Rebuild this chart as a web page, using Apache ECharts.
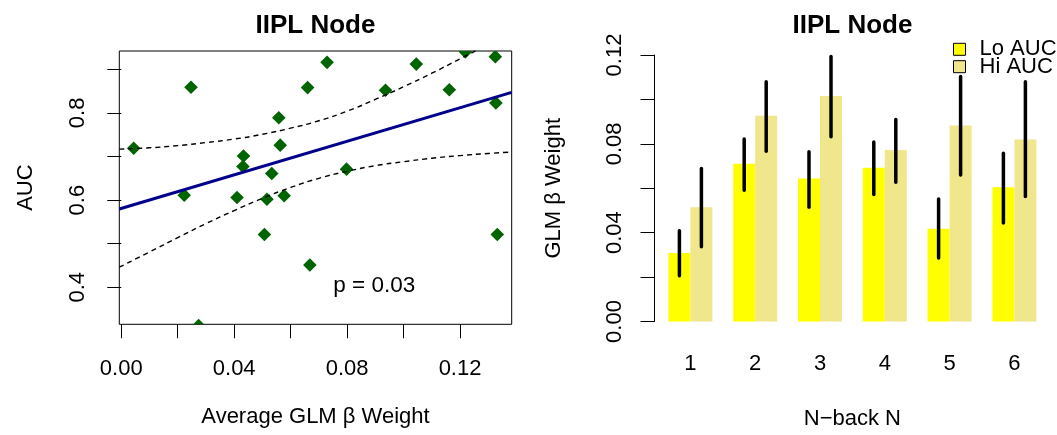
<!DOCTYPE html>
<html><head><meta charset="utf-8">
<script src="https://cdn.jsdelivr.net/npm/echarts@6/dist/echarts.min.js"></script>
<style>html,body{margin:0;padding:0;background:#fff}#c{width:1057px;height:435px}</style>
</head><body><div id="c"></div>
<script>
// ---- Left panel: scatter of AUC vs average GLM beta weight ----
const scatterX = [0.0044, 0.0247, 0.0223, 0.0274, 0.0410, 0.0433, 0.0431, 0.0507, 0.0516, 0.0533, 0.0558, 0.0563,
                  0.0577, 0.0660, 0.0668, 0.0729, 0.0798, 0.0936, 0.1045, 0.1162, 0.1219, 0.1325, 0.1327, 0.1332];
const scatterY = [0.719, 0.859, 0.611, 0.312, 0.606, 0.701, 0.677, 0.521, 0.602, 0.661, 0.789, 0.726,
                  0.610, 0.858, 0.451, 0.916, 0.671, 0.852, 0.912, 0.853, 0.940, 0.929, 0.823, 0.521];
const fitX = [-0.0007, 0.1383];
const fitY = [0.5797, 0.8470];
const bandX = [-0.0007, 0.01, 0.02, 0.03, 0.04, 0.05, 0.06, 0.07, 0.08, 0.09, 0.10, 0.11, 0.12, 0.13, 0.1383];
const bandUpper = [0.717, 0.720, 0.725, 0.732, 0.740, 0.751, 0.765, 0.782, 0.804, 0.831, 0.860, 0.891, 0.924, 0.957, 0.985];
const bandLower = [0.446, 0.481, 0.514, 0.546, 0.576, 0.604, 0.629, 0.650, 0.666, 0.679, 0.688, 0.696, 0.702, 0.707, 0.710];
const xTicksLeft = [0, 0.02, 0.04, 0.06, 0.08, 0.10, 0.12];
const xLabelsLeft = [0, 0.04, 0.08, 0.12];
const yTicksLeft = [0.4, 0.5, 0.6, 0.7, 0.8, 0.9];
const yLabelsLeft = [0.4, 0.6, 0.8];
const pText = 'p = 0.03';

// ---- Right panel: bars with error bars ----
const nback = ['1', '2', '3', '4', '5', '6'];
const loAUC = [0.0308, 0.0710, 0.0644, 0.0692, 0.0418, 0.0604];
const hiAUC = [0.0515, 0.0926, 0.1015, 0.0772, 0.0882, 0.0820];
const loErrLow  = [0.0206, 0.0591, 0.0515, 0.0572, 0.0286, 0.0443];
const loErrHigh = [0.0409, 0.0822, 0.0764, 0.0808, 0.0552, 0.0758];
const hiErrLow  = [0.0337, 0.0767, 0.0832, 0.0627, 0.0660, 0.0563];
const hiErrHigh = [0.0689, 0.1079, 0.1193, 0.0910, 0.1103, 0.1079];
const yTicksRight = [0, 0.02, 0.04, 0.06, 0.08, 0.10, 0.12];
const yLabelsRight = [0, 0.04, 0.08, 0.12];

const FONT = '"Liberation Sans", Arial, Helvetica, sans-serif';
const BARW = 22;

const chart = echarts.init(document.getElementById('c'), null, {renderer: 'canvas'});

function errItem(offset) {
  return function (params, api) {
    const c = api.value(0);
    const p1 = api.coord([c, api.value(1)]);
    const p2 = api.coord([c, api.value(2)]);
    const x = p1[0] + offset;
    return {type: 'line', shape: {x1: x, y1: p1[1], x2: x, y2: p2[1]},
            style: {stroke: '#000', lineWidth: 3.5, lineCap: 'round'}};
  };
}

const legendCommon = {
  orient: 'vertical', left: 953, padding: 0, itemWidth: 12, itemHeight: 12,
  icon: 'rect',
  itemStyle: {borderColor: '#000', borderWidth: 1},
  textStyle: {fontFamily: FONT, fontSize: 22, color: '#000', padding: [0, 0, 0, 9]}
};
const titleStyle = {fontFamily: FONT, fontSize: 26, fontWeight: 'bold', color: '#000'};

const option = {
  animation: false,
  backgroundColor: '#fff',
  textStyle: {fontFamily: FONT},
  title: [
    {text: 'IIPL Node', left: 315.5, top: 12.8, padding: 0, textAlign: 'center', textStyle: titleStyle},
    {text: 'IIPL Node', left: 852.5, top: 12.8, padding: 0, textAlign: 'center', textStyle: titleStyle}
  ],
  legend: [
    Object.assign({}, legendCommon, {top: 38.3, data: ['Lo AUC']}),
    Object.assign({}, legendCommon, {top: 55.7, data: ['Hi AUC']})
  ],
  grid: [
    {left: 119.3, top: 51, width: 392.4, height: 273.3, show: true, borderColor: '#000', borderWidth: 1,
     backgroundColor: 'transparent'},
    {left: 658, top: 55, width: 388.8, height: 271.7}
  ],
  xAxis: [
    {gridIndex: 0, type: 'value', min: -0.0007, max: 0.1383,
     axisLine: {show: false}, splitLine: {show: false},
     axisTick: {show: true, length: 14, customValues: xTicksLeft, lineStyle: {color: '#000', width: 1}},
     axisLabel: {customValues: xLabelsLeft, formatter: v => v.toFixed(2), margin: 33.4,
                 fontFamily: FONT, fontSize: 22, color: '#000'},
     name: 'Average GLM \u03b2 Weight', nameLocation: 'middle', nameGap: 82,
     nameTextStyle: {fontFamily: FONT, fontSize: 22, color: '#000'}},
    {gridIndex: 1, type: 'category', data: nback,
     axisLine: {show: false}, axisTick: {show: false}, splitLine: {show: false},
     axisLabel: {margin: 31.5, fontFamily: FONT, fontSize: 22, color: '#000'},
     name: 'N\u2212back N', nameLocation: 'middle', nameGap: 86.5,
     nameTextStyle: {fontFamily: FONT, fontSize: 22, color: '#000'}}
  ],
  yAxis: [
    {gridIndex: 0, type: 'value', min: 0.3151, max: 0.942,
     axisLine: {show: false}, splitLine: {show: false},
     axisTick: {show: true, length: 14, customValues: yTicksLeft, lineStyle: {color: '#000', width: 1}},
     axisLabel: {customValues: yLabelsLeft, formatter: v => v.toFixed(1), rotate: 90, margin: 30.5,
                 fontFamily: FONT, fontSize: 22, color: '#000'},
     name: 'AUC', nameLocation: 'middle', nameGap: 82.5,
     nameTextStyle: {fontFamily: FONT, fontSize: 22, color: '#000'}},
    {gridIndex: 1, type: 'value', min: 0, max: 0.12, offset: 3.5,
     axisLine: {show: true, lineStyle: {color: '#000', width: 1}}, splitLine: {show: false},
     axisTick: {show: true, length: 14, customValues: yTicksRight, lineStyle: {color: '#000', width: 1}},
     axisLabel: {customValues: yLabelsRight, formatter: v => v.toFixed(2), rotate: 90, margin: 29,
                 fontFamily: FONT, fontSize: 22, color: '#000'},
     name: 'GLM \u03b2 Weight', nameLocation: 'middle', nameGap: 90,
     nameTextStyle: {fontFamily: FONT, fontSize: 22, color: '#000'}}
  ],
  series: [
    {type: 'custom', xAxisIndex: 0, yAxisIndex: 0, clip: true, z: 2,
     data: scatterX.map((x, i) => [x, scatterY[i]]),
     renderItem: function (params, api) {
       const p = api.coord([api.value(0), api.value(1)]);
       const r = 6.8;
       return {type: 'polygon', shape: {points: [[p[0], p[1] - r], [p[0] + r, p[1]], [p[0], p[1] + r], [p[0] - r, p[1]]]},
               style: {fill: '#006400'}};
     }},
    {type: 'line', xAxisIndex: 0, yAxisIndex: 0, data: bandX.map((x, i) => [x, bandUpper[i]]),
     smooth: true, showSymbol: false, clip: true, z: 3,
     lineStyle: {color: '#000', width: 1.4, type: [5, 4]}},
    {type: 'line', xAxisIndex: 0, yAxisIndex: 0, data: bandX.map((x, i) => [x, bandLower[i]]),
     smooth: true, showSymbol: false, clip: true, z: 3,
     lineStyle: {color: '#000', width: 1.4, type: [5, 4]}},
    {type: 'line', xAxisIndex: 0, yAxisIndex: 0, data: fitX.map((x, i) => [x, fitY[i]]),
     showSymbol: false, clip: true, z: 4,
     lineStyle: {color: '#00008B', width: 3}},
    {name: 'Lo AUC', type: 'bar', xAxisIndex: 1, yAxisIndex: 1, data: loAUC, barWidth: BARW, barGap: '0%',
     itemStyle: {color: '#FFFF00'}},
    {name: 'Hi AUC', type: 'bar', xAxisIndex: 1, yAxisIndex: 1, data: hiAUC, barWidth: BARW, barGap: '0%',
     itemStyle: {color: '#F0E68C'}},
    {type: 'custom', xAxisIndex: 1, yAxisIndex: 1, z: 5,
     data: nback.map((n, i) => [i, loErrLow[i], loErrHigh[i]]),
     encode: {x: 0, y: [1, 2]}, renderItem: errItem(-BARW / 2)},
    {type: 'custom', xAxisIndex: 1, yAxisIndex: 1, z: 5,
     data: nback.map((n, i) => [i, hiErrLow[i], hiErrHigh[i]]),
     encode: {x: 0, y: [1, 2]}, renderItem: errItem(BARW / 2)}
  ],
  graphic: [
    {type: 'text', left: 333.3, top: 274.5,
     style: {text: pText, fontFamily: FONT, fontSize: 22.5, fill: '#000'}}
  ]
};
chart.setOption(option);
</script>
</body></html>
